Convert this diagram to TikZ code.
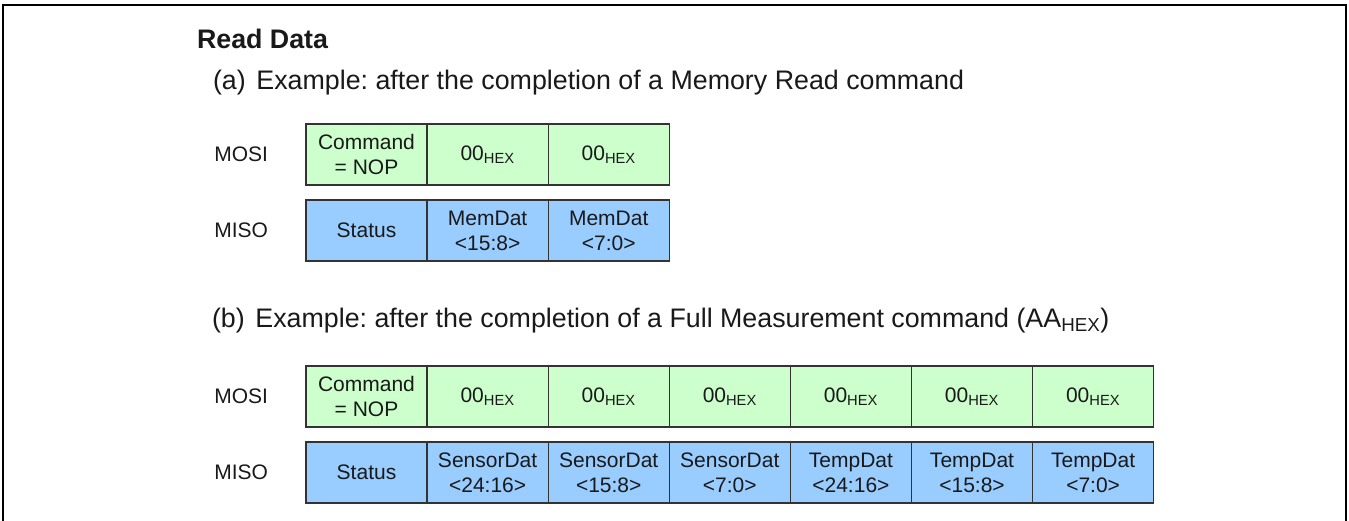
\documentclass[tikz,border=0pt]{standalone}
\usepackage{fontspec}
\setmainfont{Liberation Sans}
\usetikzlibrary{%
    positioning
}
\definecolor{mosigreen}{RGB}{204,255,204}
\definecolor{misoblue}{RGB}{153,204,255}
\newcommand{\cellfnt}{\fontsize{21}{25}\selectfont}
\newcommand{\hdfnt}{\fontsize{26.8}{30}\selectfont}
\newcommand{\hexsub}{\textsubscript{HEX}}
\frenchspacing
\tikzset{
    every node/.style = {
        inner sep=0pt, text=black!90,
        outer sep=0pt,% cells share their borders
    },
    cell/.style = {
        rectangle, draw=black!80, line width=1.3pt,
        minimum width = 121.1pt,
        minimum height = 61pt,
        align=center, font=\cellfnt
    },
    mosicell/.style = {cell, fill=mosigreen},
    misocell/.style = {cell, fill=misoblue},
    siglabel/.style = {font=\cellfnt},
    heading/.style = {anchor=base west, font=\hdfnt}
}

\begin{document}
\begin{tikzpicture}[x=1pt, y=-1pt]
    \useasboundingbox (0,0) rectangle (1349,521);
    \draw[line width=2.5pt] (3,521) -- (3,5) -- (1346,5) -- (1346,521);

    \node[heading, font=\hdfnt\bfseries] (title) at (197,49) {Read Data};

    % (a) memory read
    \node[heading] (capA) at (213,90)
        {(a)\hspace{0.4em}Example: after the completion of a Memory Read command};
    \node[mosicell] (cmdA) at (366.5,154.5) {Command\\= NOP};
    \node[mosicell, right=0pt of cmdA] (nopA1) {00\hexsub};
    \node[mosicell, right=0pt of nopA1] (nopA2) {00\hexsub};
    \node[misocell, below=15pt of cmdA] (statA) {Status};
    \node[misocell, right=0pt of statA] (memA1) {MemDat\\<15:8>};
    \node[misocell, right=0pt of memA1] (memA2) {MemDat\\<7:0>};
    \node[siglabel, left=38pt of cmdA] (mosiA) {MOSI};
    \node[siglabel, left=38pt of statA] (misoA) {MISO};

    % (b) full measurement
    \node[heading] (capB) at (212,327)
        {(b)\hspace{0.4em}Example: after the completion of a Full Measurement command (AA\hexsub)};
    \node[mosicell] (cmdB) at (366.5,396.5) {Command\\= NOP};
    \node[mosicell, right=0pt of cmdB] (nopB1) {00\hexsub};
    \node[mosicell, right=0pt of nopB1] (nopB2) {00\hexsub};
    \node[mosicell, right=0pt of nopB2] (nopB3) {00\hexsub};
    \node[mosicell, right=0pt of nopB3] (nopB4) {00\hexsub};
    \node[mosicell, right=0pt of nopB4] (nopB5) {00\hexsub};
    \node[mosicell, right=0pt of nopB5] (nopB6) {00\hexsub};
    \node[misocell, below=15pt of cmdB] (statB) {Status};
    \node[misocell, right=0pt of statB] (sensB1) {SensorDat\\<24:16>};
    \node[misocell, right=0pt of sensB1] (sensB2) {SensorDat\\<15:8>};
    \node[misocell, right=0pt of sensB2] (sensB3) {SensorDat\\<7:0>};
    \node[misocell, right=0pt of sensB3] (tempB1) {TempDat\\<24:16>};
    \node[misocell, right=0pt of tempB1] (tempB2) {TempDat\\<15:8>};
    \node[misocell, right=0pt of tempB2] (tempB3) {TempDat\\<7:0>};
    \node[siglabel, left=38pt of cmdB] (mosiB) {MOSI};
    \node[siglabel, left=38pt of statB] (misoB) {MISO};
\end{tikzpicture}
\end{document}
